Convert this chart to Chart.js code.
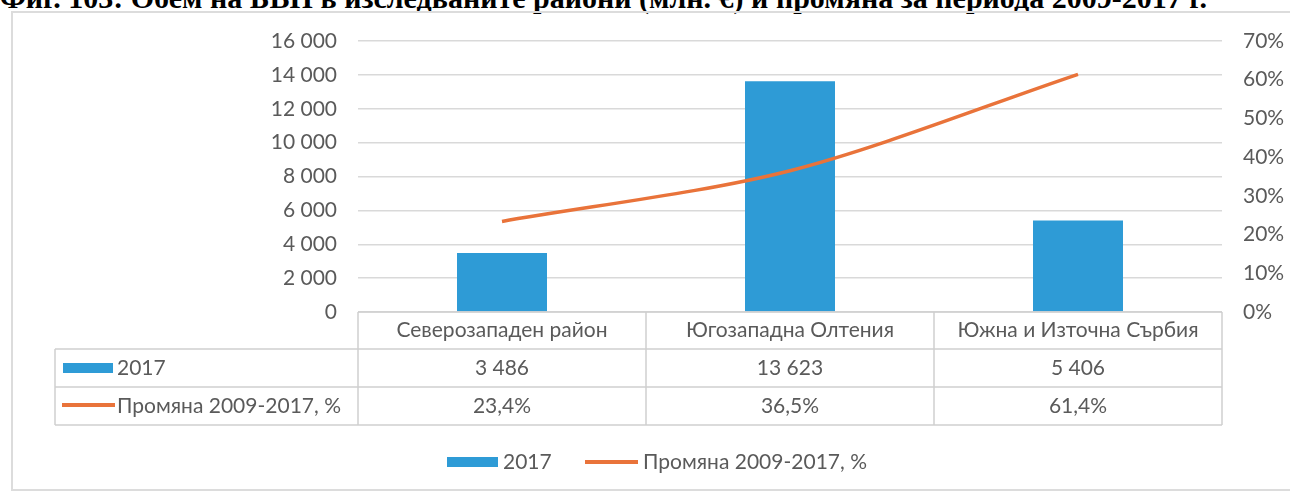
<!DOCTYPE html>
<html>
<head>
<meta charset="utf-8">
<script src="https://cdn.jsdelivr.net/npm/chart.js@4/dist/chart.umd.min.js"></script>
<style>
  html, body { margin: 0; padding: 0; background: #fff; }
  body { width: 1290px; height: 491px; position: relative; overflow: hidden; }
  #title {
    position: absolute; left: 0; top: -19px; white-space: nowrap;
    font: bold 30px "Liberation Serif", "DejaVu Serif", serif; color: #000;
  }
  #frame {
    position: absolute; left: 11px; top: 11px; width: 1290px; height: 476px;
    border: 2px solid #dcdcdc;
  }
  #wrap { position: absolute; left: 0; top: 0; width: 1290px; height: 491px; }
</style>
</head>
<body>
<div id="title">Фиг. 103: Обем на БВП в изследваните райони (млн. €) и промяна за периода 2009-2017 г.</div>
<div id="frame"></div>
<div id="wrap"><canvas id="chart"></canvas></div>
<script>
// categories and series
const regions = ["Северозападен район", "Югозападна Олтения", "Южна и Източна Сърбия"];
const gdp2017 = [3486, 13623, 5406];
const change0917 = [23.4, 36.5, 61.4];
const barLabel = "2017";
const lineLabel = "Промяна 2009-2017, %";
const leftTicks = [0, 2000, 4000, 6000, 8000, 10000, 12000, 14000, 16000];
const rightTicks = [0, 10, 20, 30, 40, 50, 60, 70];

const blue = "#2e9bd6";
const orange = "#e9733a";
const textColor = "#5a5a5a";
const gridColor = "#d9d9d9";
const font = "Lato";

function thousands(v) {
  return String(v).replace(/\B(?=(\d{3})+(?!\d))/g, " ");
}
function pct(v) {
  return v.toFixed(1).replace(".", ",") + "%";
}

// data table + legend drawn below the plot, aligned to the x scale
const tablePlugin = {
  id: "dataTable",
  afterDraw(chart) {
    const c = chart.ctx;
    const area = chart.chartArea;
    const xs = chart.scales.x;
    const half = (xs.getPixelForValue(1) - xs.getPixelForValue(0)) / 2;
    const bounds = [area.left];
    regions.forEach((r, i) => bounds.push(xs.getPixelForValue(i) + half));
    const tableLeft = 55;
    const yHead = area.bottom, yRow1 = 349, yRow2 = 387, yEnd = 425;

    c.save();
    c.strokeStyle = "#d0d0d0";
    c.lineWidth = 1.5;
    c.beginPath();
    c.moveTo(area.left, yHead); c.lineTo(area.right, yHead);
    [yRow1, yRow2, yEnd].forEach((y) => { c.moveTo(tableLeft, y); c.lineTo(area.right, y); });
    c.moveTo(tableLeft, yRow1); c.lineTo(tableLeft, yEnd);
    bounds.forEach((x) => { c.moveTo(x, yHead); c.lineTo(x, yEnd); });
    c.stroke();

    c.fillStyle = textColor;
    c.font = "21px " + font;
    c.textAlign = "center";
    c.textBaseline = "middle";
    regions.forEach((r, i) => {
      const x = xs.getPixelForValue(i);
      c.fillText(r, x, (yHead + yRow1) / 2);
      c.fillText(thousands(gdp2017[i]), x, (yRow1 + yRow2) / 2);
      c.fillText(pct(change0917[i]), x, (yRow2 + yEnd) / 2);
    });

    // row headers with series keys
    c.textAlign = "left";
    c.fillStyle = blue;
    c.fillRect(63, 363, 50, 10);
    c.fillStyle = textColor;
    c.fillText(barLabel, 117, (yRow1 + yRow2) / 2);
    c.strokeStyle = orange;
    c.lineWidth = 4;
    c.beginPath(); c.moveTo(62, 405); c.lineTo(115, 405); c.stroke();
    c.fillText(lineLabel, 117, (yRow2 + yEnd) / 2);

    // legend
    c.fillStyle = blue;
    c.fillRect(447, 457, 51, 10);
    c.fillStyle = textColor;
    c.fillText(barLabel, 503, 462);
    c.beginPath(); c.moveTo(585, 462); c.lineTo(638, 462); c.stroke();
    c.fillText(lineLabel, 643, 462);
    c.restore();
  },
};

const ctx = document.getElementById("chart");
const chart = new Chart(ctx, {
  type: "bar",
  data: {
    labels: regions,
    datasets: [
      {
        type: "line",
        label: lineLabel,
        data: change0917,
        yAxisID: "y1",
        borderColor: orange,
        borderWidth: 3.5,
        pointRadius: 0,
        tension: 0.3,
        order: 0,
      },
      {
        label: barLabel,
        data: gdp2017,
        yAxisID: "y",
        backgroundColor: blue,
        categoryPercentage: 1,
        barPercentage: 0.3125,
        order: 1,
      },
    ],
  },
  options: {
    responsive: true,
    maintainAspectRatio: false,
    animation: false,
    layout: { padding: { top: 41, bottom: 179, left: 0, right: 0 } },
    plugins: { legend: { display: false }, tooltip: { enabled: false } },
    scales: {
      x: { display: false },
      y: {
        position: "left",
        min: 0,
        max: 16000,
        afterBuildTicks: (s) => { s.ticks = leftTicks.map((v) => ({ value: v })); },
        afterFit: (s) => { s.width = 358; },
        border: { display: false },
        grid: { color: gridColor, lineWidth: 1.5, drawTicks: false },
        ticks: {
          padding: 21,
          color: textColor,
          font: { family: font, size: 21 },
          callback: (v) => thousands(v),
        },
      },
      y1: {
        position: "right",
        min: 0,
        max: 70,
        afterBuildTicks: (s) => { s.ticks = rightTicks.map((v) => ({ value: v })); },
        afterFit: (s) => { s.width = 68; },
        border: { display: false },
        grid: { display: false, drawTicks: false },
        ticks: {
          padding: 21,
          color: textColor,
          font: { family: font, size: 21 },
          callback: (v) => v + "%",
        },
      },
    },
  },
  plugins: [tablePlugin],
});
</script>
</body>
</html>
